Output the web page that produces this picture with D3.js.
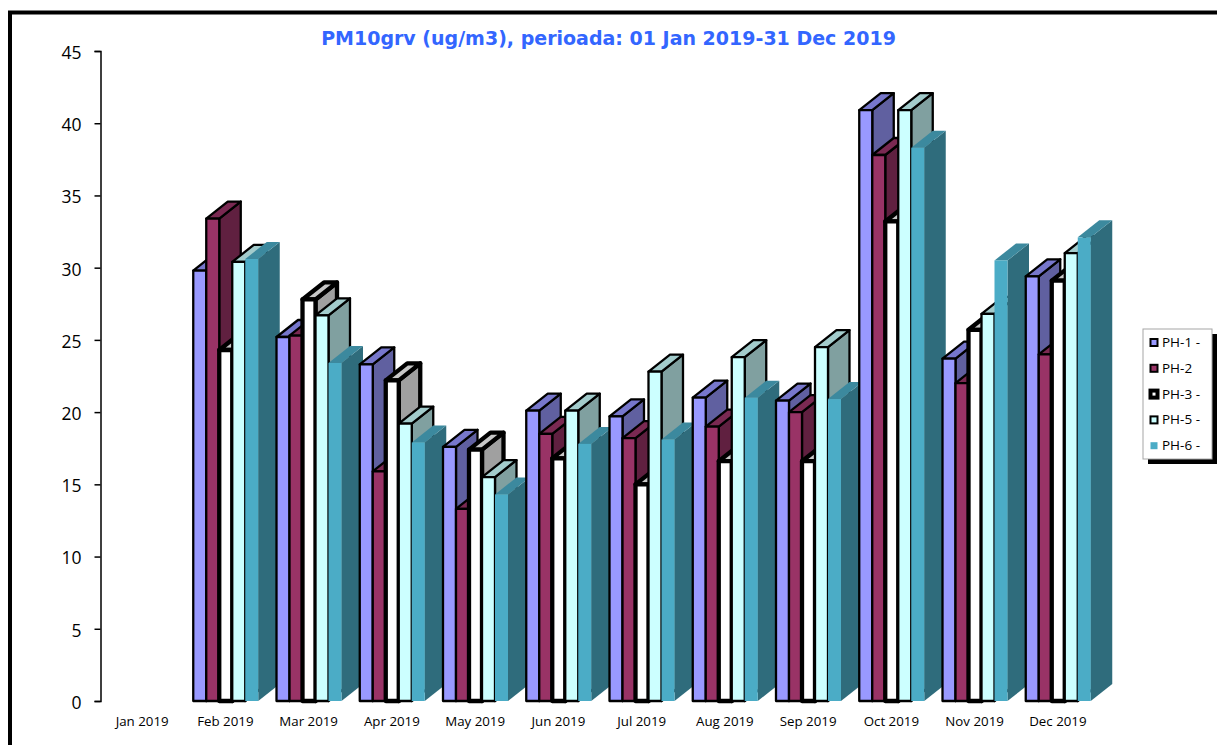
<!DOCTYPE html>
<html><head><meta charset="utf-8">
<script src="https://cdn.jsdelivr.net/npm/d3@7"></script>
<style>html,body{margin:0;padding:0;background:#fff;overflow:hidden}svg{display:block}</style>
</head><body><div id="chart"></div>
<script>
const months = ["Jan 2019","Feb 2019","Mar 2019","Apr 2019","May 2019","Jun 2019","Jul 2019","Aug 2019","Sep 2019","Oct 2019","Nov 2019","Dec 2019"];
const seriesNames = ["PH-1 -","PH-2","PH-3 -","PH-5 -","PH-6 -"];
const ph1 = [null,29.8,25.2,23.3,17.6,20.1,19.7,21.0,20.8,40.9,23.7,29.4];
const ph2 = [null,33.4,25.3,15.9,13.3,18.5,18.2,19.0,20.0,37.8,22.0,24.0];
const ph3 = [null,24.3,27.8,22.2,17.4,16.8,15.0,16.6,16.6,33.2,25.7,29.1];
const ph5 = [null,30.4,26.7,19.2,15.5,20.1,22.8,23.8,24.5,40.9,26.8,31.0];
const ph6 = [null,30.6,23.4,17.9,14.3,17.8,18.1,21.0,20.9,38.3,30.5,32.1];
const seriesValues = [ph1,ph2,ph3,ph5,ph6];
const yTicks = [0,5,10,15,20,25,30,35,40,45];
const fronts = ["#9999ff","#993366","#ffffff","#ccffff","#4bacc6"];
const sides  = ["#6060a0","#602040","#a0a0a0","#80a0a0","#2f6c7c"];
const tops   = ["#7777cc","#7a2952","#c8c8c8","#a3cccc","#3c899e"];
const strokes= ["#000","#000","#000","#000","none"];
const widths = [2.3,2.3,4.3,2.3,0];

const W=1217,H=745;
const svg=d3.select("#chart").append("svg").attr("width",W).attr("height",H);
svg.append("rect").attr("width",W).attr("height",H).attr("fill","#fff");
svg.append("path").attr("d",`M10,${H}V12.5H${W}`).attr("fill","none").attr("stroke","#000").attr("stroke-width",4);

const y=d3.scaleLinear().domain([0,45]).range([701,51]);
const x0=d3.scaleBand().domain(months).range([100.5,1099.5]);
const x1=d3.scaleBand().domain(d3.range(5)).range([9.5,74.5]);
const dx=21.5,dy=17;

const plot=svg.append("g");
months.forEach((m,i)=>{
  seriesValues.forEach((vals,s)=>{
    const v=vals[i]; if(v==null) return;
    const g=plot.append("g").attr("stroke",strokes[s]).attr("stroke-width",widths[s]).attr("stroke-linejoin","round");
    const l=x0(m)+x1(s), r=l+x1.bandwidth(), t=y(v), b=y(0);
    g.append("path").attr("fill",sides[s]).attr("d",`M${r},${t}L${r+dx},${t-dy}V${b-dy}L${r},${b}Z`);
    g.append("path").attr("fill",tops[s]).attr("d",`M${l},${t}L${l+dx},${t-dy}H${r+dx}L${r},${t}Z`);
    g.append("rect").attr("fill",fronts[s]).attr("x",l).attr("y",t).attr("width",r-l).attr("height",b-t);
  });
});

const yAxis=svg.append("g").attr("transform","translate(100.5,0)")
  .call(d3.axisLeft(y).tickValues(yTicks).tickSize(6).tickPadding(13).tickFormat(d3.format("d")));
yAxis.selectAll("path,line").attr("stroke","#000").attr("stroke-width",1.5);
yAxis.selectAll("text").attr("font-family","'Open Sans'").attr("font-size",17.5).attr("fill","#000").attr("dy","0.42em");

const xAxis=svg.append("g").attr("transform","translate(0,701)")
  .call(d3.axisBottom(x0).tickSize(0).tickPadding(16));
xAxis.select("path").remove();
xAxis.selectAll("text").attr("font-family","'Open Sans'").attr("font-size",13.3).attr("fill","#000");

svg.append("text").attr("x",608.5).attr("y",45).attr("text-anchor","middle")
  .attr("font-family","'DejaVu Sans'").attr("font-weight","bold").attr("font-size",19).attr("fill","#3366ff")
  .text("PM10grv (ug/m3), perioada: 01 Jan 2019-31 Dec 2019");

const lg=svg.append("g");
lg.append("rect").attr("x",1148).attr("y",334).attr("width",69).attr("height",130).attr("fill","#000");
lg.append("rect").attr("x",1143).attr("y",329).attr("width",69).attr("height",130).attr("fill","#fff").attr("stroke","#a6a6a6").attr("stroke-width",1);
seriesNames.forEach((n,s)=>{
  const cy=342.5+s*25.8;
  lg.append("rect").attr("x",1150.5).attr("y",cy-3.5).attr("width",7).attr("height",7)
    .attr("fill",fronts[s]).attr("stroke",strokes[s]).attr("stroke-width",s==2?4:2);
  lg.append("text").attr("x",1162).attr("y",cy+4.5).attr("font-family","'Open Sans'").attr("font-size",13.5).attr("fill","#000").text(n);
});
</script></body></html>
